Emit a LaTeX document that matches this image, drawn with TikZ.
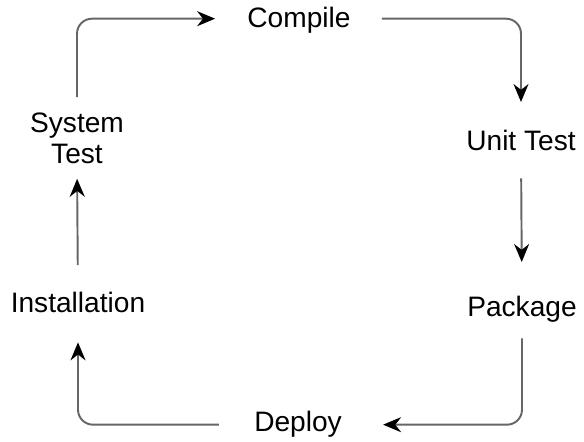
\documentclass[tikz,border=0pt]{standalone}
\usepackage{fontspec}
\setmainfont{Liberation Sans}
\usepackage{tikz}
\usetikzlibrary{arrows.meta}
\tikzset{schrift/.style={inner sep=0, font=\fontsize{16}{17.6}\selectfont},
	phase/.style={schrift, anchor=base, text height=0.72em, text depth=0pt},
	pfeil/.style={draw=black!60, line width=1.1pt, rounded corners=0.3cm,
		-{Stealth[length=0.36cm, width=0.3cm, color=black]}} }

\begin{document}
\begin{tikzpicture}
	[x=0.02cm, y=-0.02cm]
  \useasboundingbox (0,0) rectangle (584,441);

  \node (compile) [phase] at (299,27) {Compile};
  \node (unit) [phase] at (521,150) {Unit Test};
  \node (package) [phase] at (522,316) {Package};
  \node (deploy) [phase] at (298,431) {Deploy};
  \node (inst) [phase] at (78,312) {Installation};
  \node (sys) [schrift, align=center] at (77,138) {System\\Test};

  \draw [pfeil, shorten <=0.3cm, shorten >=0.64cm] (sys.north) |- ([yshift=0.04cm]compile.west);
  \draw [pfeil, shorten <=0.62cm, shorten >=0.7cm] ([yshift=0.04cm]compile.east) -| (unit.north);
  \draw [pfeil, shorten <=0.56cm, shorten >=0.82cm] (unit.south) -- (package.north);
  \draw [pfeil, shorten <=0.44cm, shorten >=0.82cm] (package.south) |- (deploy.east);
  \draw [pfeil, shorten <=0.7cm, shorten >=0.6cm] (deploy.west) -| (inst.south);
  \draw [pfeil, shorten <=0.68cm, shorten >=0.3cm] (inst.north) -- (sys.south);
\end{tikzpicture}
\end{document}
